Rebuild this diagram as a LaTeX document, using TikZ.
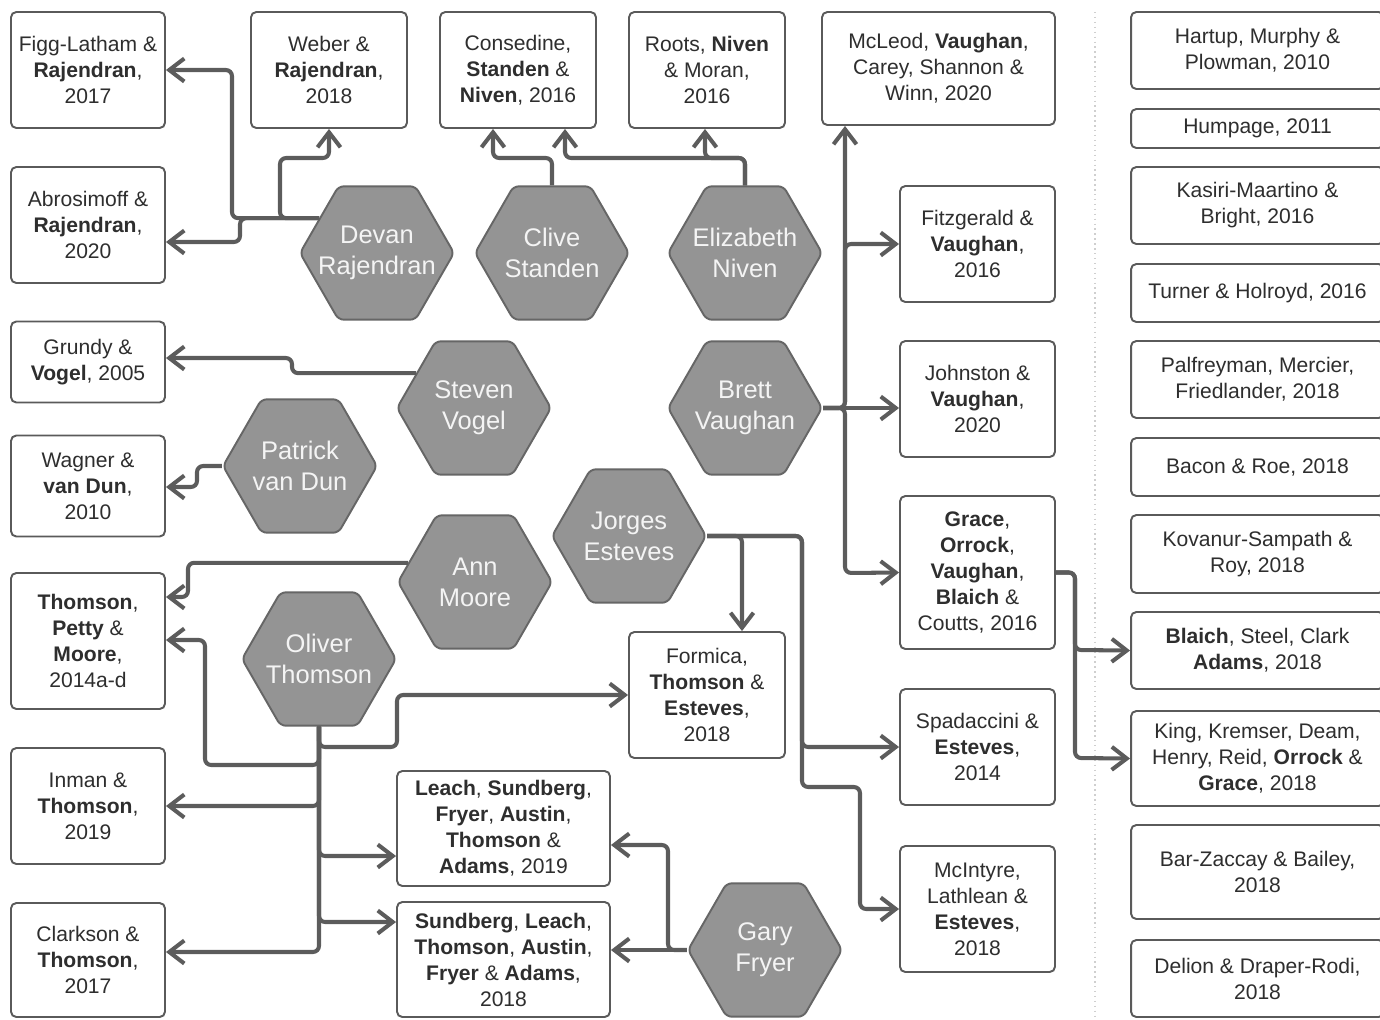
\documentclass[tikz,border=0pt]{standalone}
\usepackage{fontspec}
\setmainfont{Liberation Sans}
\usetikzlibrary{arrows.meta,shapes.geometric}
\definecolor{inkgray}{HTML}{2E2E2E}
\definecolor{boxline}{HTML}{5A5A5A}
\definecolor{linkgray}{HTML}{5C5C5C}
\definecolor{hexfill}{HTML}{949494}
\definecolor{hexline}{HTML}{666666}
\definecolor{hextext}{HTML}{F4F4F4}
\definecolor{sepgray}{HTML}{CFCFCF}

\begin{document}
\begin{tikzpicture}[x=0.02cm, y=-0.02cm,
	paper/.style={draw=boxline, line width=1.1pt, rounded corners=3pt, fill=white, text=inkgray, align=center, inner sep=0pt, font=\fontsize{12}{14.8}\selectfont},
	author/.style={regular polygon, regular polygon sides=6, minimum size=3.08cm, inner sep=-12pt, draw=hexline, line width=1.1pt, fill=hexfill, rounded corners=3pt, text=hextext, align=center, font=\fontsize{14.5}{17.6}\selectfont},
	link/.style={draw=linkgray, line width=2.3pt, rounded corners=3.5pt, -{Straight Barb[length=0.3cm,width=0.46cm]}},
	sepline/.style={draw=sepgray, line width=0.8pt, dotted}]
		\useasboundingbox (0,0) rectangle (1380,1019);
		\draw[sepline] (1095,12) -- (1095,1019);

		\node[paper, minimum width=3.08cm, minimum height=2.32cm] (figg) at (88,70) {Figg-Latham \&\\ \textbf{Rajendran},\\ 2017};
		\node[paper, minimum width=3.08cm, minimum height=2.32cm] (abro) at (88,225) {Abrosimoff \&\\ \textbf{Rajendran},\\ 2020};
		\node[paper, minimum width=3.08cm, minimum height=1.62cm] (grundy) at (88,362) {Grundy \&\\ \textbf{Vogel}, 2005};
		\node[paper, minimum width=3.08cm, minimum height=2.02cm] (wagner) at (88,486) {Wagner \&\\ \textbf{van Dun},\\ 2010};
		\node[paper, minimum width=3.08cm, minimum height=2.72cm] (tpm) at (88,641) {\textbf{Thomson},\\ \textbf{Petty} \&\\ \textbf{Moore},\\ 2014a-d};
		\node[paper, minimum width=3.08cm, minimum height=2.32cm] (inman) at (88,806) {Inman \&\\ \textbf{Thomson},\\ 2019};
		\node[paper, minimum width=3.08cm, minimum height=2.28cm] (clarkson) at (88,960) {Clarkson \&\\ \textbf{Thomson},\\ 2017};

		\node[paper, minimum width=3.12cm, minimum height=2.32cm] (weber) at (329,70) {Weber \&\\ \textbf{Rajendran},\\ 2018};
		\node[paper, minimum width=3.12cm, minimum height=2.32cm] (consedine) at (518,70) {Consedine,\\ \textbf{Standen} \&\\ \textbf{Niven}, 2016};
		\node[paper, minimum width=3.12cm, minimum height=2.32cm] (roots) at (707,70) {Roots, \textbf{Niven}\\ \& Moran,\\ 2016};
		\node[paper, minimum width=4.66cm, minimum height=2.26cm] (mcleod) at (938.5,68.5) {McLeod, \textbf{Vaughan},\\ Carey, Shannon \&\\ Winn, 2020};

		\node[paper, minimum width=3.1cm, minimum height=2.32cm] (fitzgerald) at (977.5,244) {Fitzgerald \&\\ \textbf{Vaughan},\\ 2016};
		\node[paper, minimum width=3.1cm, minimum height=2.32cm] (johnston) at (977.5,399) {Johnston \&\\ \textbf{Vaughan},\\ 2020};
		\node[paper, minimum width=3.1cm, minimum height=3.06cm] (grace) at (977.5,572.5) {\textbf{Grace},\\ \textbf{Orrock},\\ \textbf{Vaughan},\\ \textbf{Blaich} \&\\ Coutts, 2016};
		\node[paper, minimum width=3.1cm, minimum height=2.32cm] (spadaccini) at (977.5,747) {Spadaccini \&\\ \textbf{Esteves},\\ 2014};
		\node[paper, minimum width=3.1cm, minimum height=2.52cm] (mcintyre) at (977.5,909) {McIntyre,\\ Lathlean \&\\ \textbf{Esteves},\\ 2018};

		\node[paper, minimum width=3.12cm, minimum height=2.52cm] (formica) at (707,695) {Formica,\\ \textbf{Thomson} \&\\ \textbf{Esteves},\\ 2018};
		\node[paper, minimum width=4.26cm, minimum height=2.3cm] (leach) at (503.5,828.5) {\textbf{Leach}, \textbf{Sundberg},\\ \textbf{Fryer}, \textbf{Austin},\\ \textbf{Thomson} \&\\ \textbf{Adams}, 2019};
		\node[paper, minimum width=4.26cm, minimum height=2.3cm] (sundberg) at (503.5,959.5) {\textbf{Sundberg}, \textbf{Leach},\\ \textbf{Thomson}, \textbf{Austin},\\ \textbf{Fryer} \& \textbf{Adams},\\ 2018};

		\node[paper, minimum width=5.06cm, minimum height=1.54cm] (hartup) at (1257.5,50.5) {Hartup, Murphy \&\\ Plowman, 2010};
		\node[paper, minimum width=5.06cm, minimum height=0.78cm] (humpage) at (1257.5,128.5) {Humpage, 2011};
		\node[paper, minimum width=5.06cm, minimum height=1.54cm] (kasiri) at (1257.5,205.5) {Kasiri-Maartino \&\\ Bright, 2016};
		\node[paper, minimum width=5.06cm, minimum height=1.16cm] (turner) at (1257.5,293) {Turner \& Holroyd, 2016};
		\node[paper, minimum width=5.06cm, minimum height=1.54cm] (palfreyman) at (1257.5,379.5) {Palfreyman, Mercier,\\ Friedlander, 2018};
		\node[paper, minimum width=5.06cm, minimum height=1.16cm] (bacon) at (1257.5,467) {Bacon \& Roe, 2018};
		\node[paper, minimum width=5.06cm, minimum height=1.56cm] (kovanur) at (1257.5,554) {Kovanur-Sampath \&\\ Roy, 2018};
		\node[paper, minimum width=5.06cm, minimum height=1.54cm] (blaich) at (1257.5,650.5) {\textbf{Blaich}, Steel, Clark\\ \textbf{Adams}, 2018};
		\node[paper, minimum width=5.06cm, minimum height=1.9cm] (king) at (1257.5,758.5) {King, Kremser, Deam,\\ Henry, Reid, \textbf{Orrock} \&\\ \textbf{Grace}, 2018};
		\node[paper, minimum width=5.06cm, minimum height=1.88cm] (barzaccay) at (1257.5,872) {Bar-Zaccay \& Bailey,\\ 2018};
		\node[paper, minimum width=5.06cm, minimum height=1.54cm] (delion) at (1257.5,978.5) {Delion \& Draper-Rodi,\\ 2018};

		\node[author] (rajendran) at (377,253) {Devan\\ Rajendran};
		\node[author] (standen) at (552,253) {Clive\\ Standen};
		\node[author] (niven) at (745,253) {Elizabeth\\ Niven};
		\node[author] (vogel) at (474,408) {Steven\\ Vogel};
		\node[author] (vaughan) at (745,408) {Brett\\ Vaughan};
		\node[author] (vandun) at (300,466) {Patrick\\ van Dun};
		\node[author] (esteves) at (629,536) {Jorges\\ Esteves};
		\node[author] (moore) at (475,582) {Ann\\ Moore};
		\node[author] (thomson) at (319,659) {Oliver\\ Thomson};
		\node[author] (fryer) at (765,950) {Gary\\ Fryer};

		\draw[link] (rajendran.149) -| (232,70) -- (figg.east);
		\draw[link] (rajendran.149) -| (240,242) -- (abro.east |- 0,242);
		\draw[link] (rajendran.149) -| (280,158) -| (weber.south);
		\draw[link] (standen.north) |- (493,158) -- (consedine.south -| 493,0);
		\draw[link] (niven.north) |- (565,158) -- (consedine.south -| 565,0);
		\draw[link] (niven.north) |- (705,158) -- (roots.south -| 705,0);
		\draw[link] (vogel.149) -| (292,358) -- (grundy.east |- 0,358);
		\draw[link] (vandun.west) -| (197,487) -- (wagner.east |- 0,487);
		\draw[link] (moore.164) -| (188,597) -- (tpm.east |- 0,597);
		\draw[link] (thomson.south) |- (205,765) |- (tpm.east |- 0,640);
		\draw[link] (thomson.south) |- (397,747) |- (formica.west);
		\draw[link] (thomson.south) |- (inman.east);
		\draw[link] (thomson.south) |- (clarkson.east |- 0,952);
		\draw[link] (thomson.south) |- (leach.west |- 0,856);
		\draw[link] (thomson.south) |- (sundberg.west |- 0,922);
		\draw[link] (fryer.west) -- (sundberg.east |- fryer.west);
		\draw[link] (fryer.west) -| (668,845) -- (leach.east |- 0,845);
		\draw[link] (esteves.east) -| (formica.north -| 742,0);
		\draw[link] (esteves.east) -| (802,747) -- (spadaccini.west);
		\draw[link] (esteves.east) -| (802,787) -| (860,909) -- (mcintyre.west);
		\draw[link] (vaughan.east) -- (johnston.west |- vaughan.east);
		\draw[link] (vaughan.east) -| (mcleod.south -| 845,0);
		\draw[link] (vaughan.east) -| (845,244) -- (fitzgerald.west);
		\draw[link] (vaughan.east) -| (845,573) -- (grace.west);
		\draw[link] (grace.east) -| (1075,650) -- (blaich.west);
		\draw[link] (grace.east) -| (1075,758) -- (king.west);
	\end{tikzpicture}
\end{document}
